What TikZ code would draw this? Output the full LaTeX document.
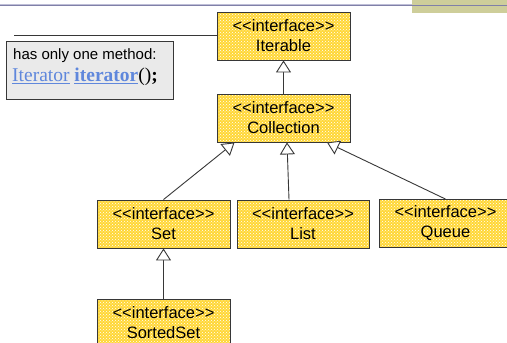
\documentclass[tikz,border=0pt]{standalone}
\usepackage{fontspec}
\setmainfont{Liberation Sans}
\newfontfamily\serifnote{Liberation Serif}
\usetikzlibrary{arrows.meta,patterns}
\definecolor{umlyellow}{RGB}{255,215,55}
\definecolor{edgegray}{RGB}{55,55,55}
\definecolor{notegray}{RGB}{234,234,234}
\definecolor{linkblue}{RGB}{95,135,220}
\definecolor{topline}{RGB}{128,128,168}
\definecolor{toplinelight}{RGB}{190,190,215}
\definecolor{khaki}{RGB}{206,206,154}
\newcommand\ifacetag{<\kern0pt<interface>\kern0pt>}
\tikzset{
  iface/.style={draw=edgegray, line width=0.9pt, preaction={fill=umlyellow},
    pattern=crosshatch dots, pattern color=white,
    minimum width=133pt, minimum height=48pt, inner sep=0pt,
    align=center, font=\fontsize{16.5}{20}\selectfont},
  inherit/.style={draw=edgegray, line width=0.9pt,
    -{Triangle[open,width=15pt,length=12pt,fill=white]}},
  notebox/.style={draw=edgegray, line width=0.9pt, fill=notegray,
    minimum width=167pt, minimum height=58pt, inner sep=0pt},
}
\begin{document}
\begin{tikzpicture}[x=1pt,y=-1pt]
\useasboundingbox (0,0) rectangle (507,343);
\begin{scope}
\clip (0,0) rectangle (507,343);
% header decoration
\fill[khaki] (412,0) rectangle (507,13);
\draw[toplinelight, line width=1pt] (0,4) -- (412,4);
\draw[topline, line width=1.2pt] (0,5.2) -- (507,5.2);

\node[iface] (iterable) at (283.5,36) {\ifacetag\\Iterable};
\node[iface] (collection) at (283.5,118) {\ifacetag\\Collection};
\node[iface] (set) at (163.5,224) {\ifacetag\\Set};
\node[iface, minimum width=132pt] (list) at (303,224) {\ifacetag\\List};
\node[iface] (queue) at (445.5,223.5) {\ifacetag\\Queue};
\node[iface] (sortedset) at (163.5,323) {\ifacetag\\SortedSet};

\node[notebox] (note) at (89.5,70) {};
\node[anchor=west, font=\fontsize{15}{18}\selectfont, inner sep=0pt] (notel1) at (13,56) {has only one method:};
\node[anchor=west, inner sep=0pt, font=\serifnote\fontsize{19.5}{22}\selectfont] (notel2) at (12,77)
  {\textcolor{linkblue}{\underline{Iterator}} \textcolor{linkblue}{\underline{\textbf{iterator}}}()\textbf{;}};
\coordinate (noteend) at (14,35);
\draw[edgegray, line width=0.9pt] (noteend) -- (iterable.west |- noteend);

\draw[inherit] (collection.north) -- (iterable.south);
\draw[inherit] (set.north) -- ([xshift=-49pt]collection.south);
\draw[inherit] ([xshift=-14pt]list.north) -- ([xshift=3.5pt]collection.south);
\draw[inherit] (queue.north) -- ([xshift=43.5pt]collection.south);
\draw[inherit] (sortedset.north) -- (set.south);
\end{scope}
\end{tikzpicture}
\end{document}
